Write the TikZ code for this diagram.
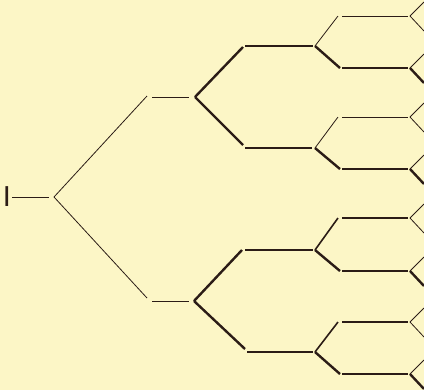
\documentclass[tikz,border=0pt]{standalone}
\usepackage{fontspec}
\newfontfamily\labelfont{Liberation Sans}
\definecolor{paper}{RGB}{252,246,198}
\definecolor{ink}{RGB}{43,28,22}
\begin{document}
\begin{tikzpicture}[x=1bp,y=-1bp,
  thinline/.style={draw=ink,line width=0.8bp},
  medline/.style={draw=ink,line width=1.6bp},
  thickline/.style={draw=ink,line width=2.4bp},
  leaflabel/.style={font=\labelfont\fontsize{29}{29}\selectfont,text=ink,inner sep=0pt}
  ]
\fill[paper] (0,0) rectangle (424,390);
\useasboundingbox (0,0) rectangle (424,390);
% root
\node[leaflabel] (root) at (7,196.5) {I};
\coordinate (h0a) at (12,197);
\coordinate (h0b) at (49,197);
\coordinate (v1) at (54,197);
\draw[thinline] (h0a) -- (h0b);
% level 1
\coordinate (a1u) at (147,96);
\coordinate (b1u) at (152,97);
\coordinate (c1u) at (189,97);
\coordinate (v2u) at (195,97);
\coordinate (a1l) at (147,298);
\coordinate (b1l) at (152,301);
\coordinate (c1l) at (189,301);
\coordinate (v2l) at (194,301);
\draw[thinline] (v1) -- (a1u);
\draw[thinline] (v1) -- (a1l);
\draw[thinline] (b1u) -- (c1u);
\draw[thinline] (b1l) -- (c1l);
% level 2
\coordinate (d2a) at (243,47);  \coordinate (h2as) at (245,46);  \coordinate (h2ae) at (313,46);
\coordinate (d2b) at (243,145); \coordinate (h2bs) at (245,148); \coordinate (h2be) at (312,148);
\coordinate (d2c) at (242,250); \coordinate (h2cs) at (245,250); \coordinate (h2ce) at (313,250);
\coordinate (d2d) at (245,349); \coordinate (h2ds) at (247,352); \coordinate (h2de) at (313,352);
\draw[thickline] (v2u) -- (d2a);
\draw[thickline] (v2u) -- (d2b);
\draw[thickline] (v2l) -- (d2c);
\draw[thickline] (v2l) -- (d2d);
\foreach \i in {a,b,c,d}{\draw[thickline] (h2\i s) -- (h2\i e);}
% level 3 and 4
\foreach \i/\yv/\yu/\yl/\us in {a/46/16/68/thinline, b/148/117/169/thinline, c/250/218/271/medline, d/352/322/374/medline}{
  \coordinate (v3\i) at (315,\yv);
  \coordinate (u3\i) at (338,\yu);
  \coordinate (uhs\i) at (342,\yu);
  \coordinate (uhe\i) at (408,\yu);
  \coordinate (v4u\i) at (410,\yu);
  \coordinate (l3\i) at (340,\yl);
  \coordinate (lhs\i) at (342,\yl);
  \coordinate (lhe\i) at (408,\yl);
  \coordinate (v4l\i) at (410,\yl);
  \coordinate (uuend\i) at (424,\yu-14);
  \coordinate (ulend\i) at (424,\yu+15);
  \coordinate (luend\i) at (424,\yl-14);
  \coordinate (llend\i) at (424,\yl+15);
  \draw[\us] (v3\i) -- (u3\i);
  \draw[\us] (uhs\i) -- (uhe\i);
  \draw[thickline] (v3\i) -- (l3\i);
  \draw[thickline] (lhs\i) -- (lhe\i);
  \draw[thinline] (v4u\i) -- (uuend\i);
  \draw[thinline] (v4u\i) -- (ulend\i);
  \draw[thinline] (v4l\i) -- (luend\i);
  \draw[thickline] (v4l\i) -- (llend\i);
}
\end{tikzpicture}
\end{document}
